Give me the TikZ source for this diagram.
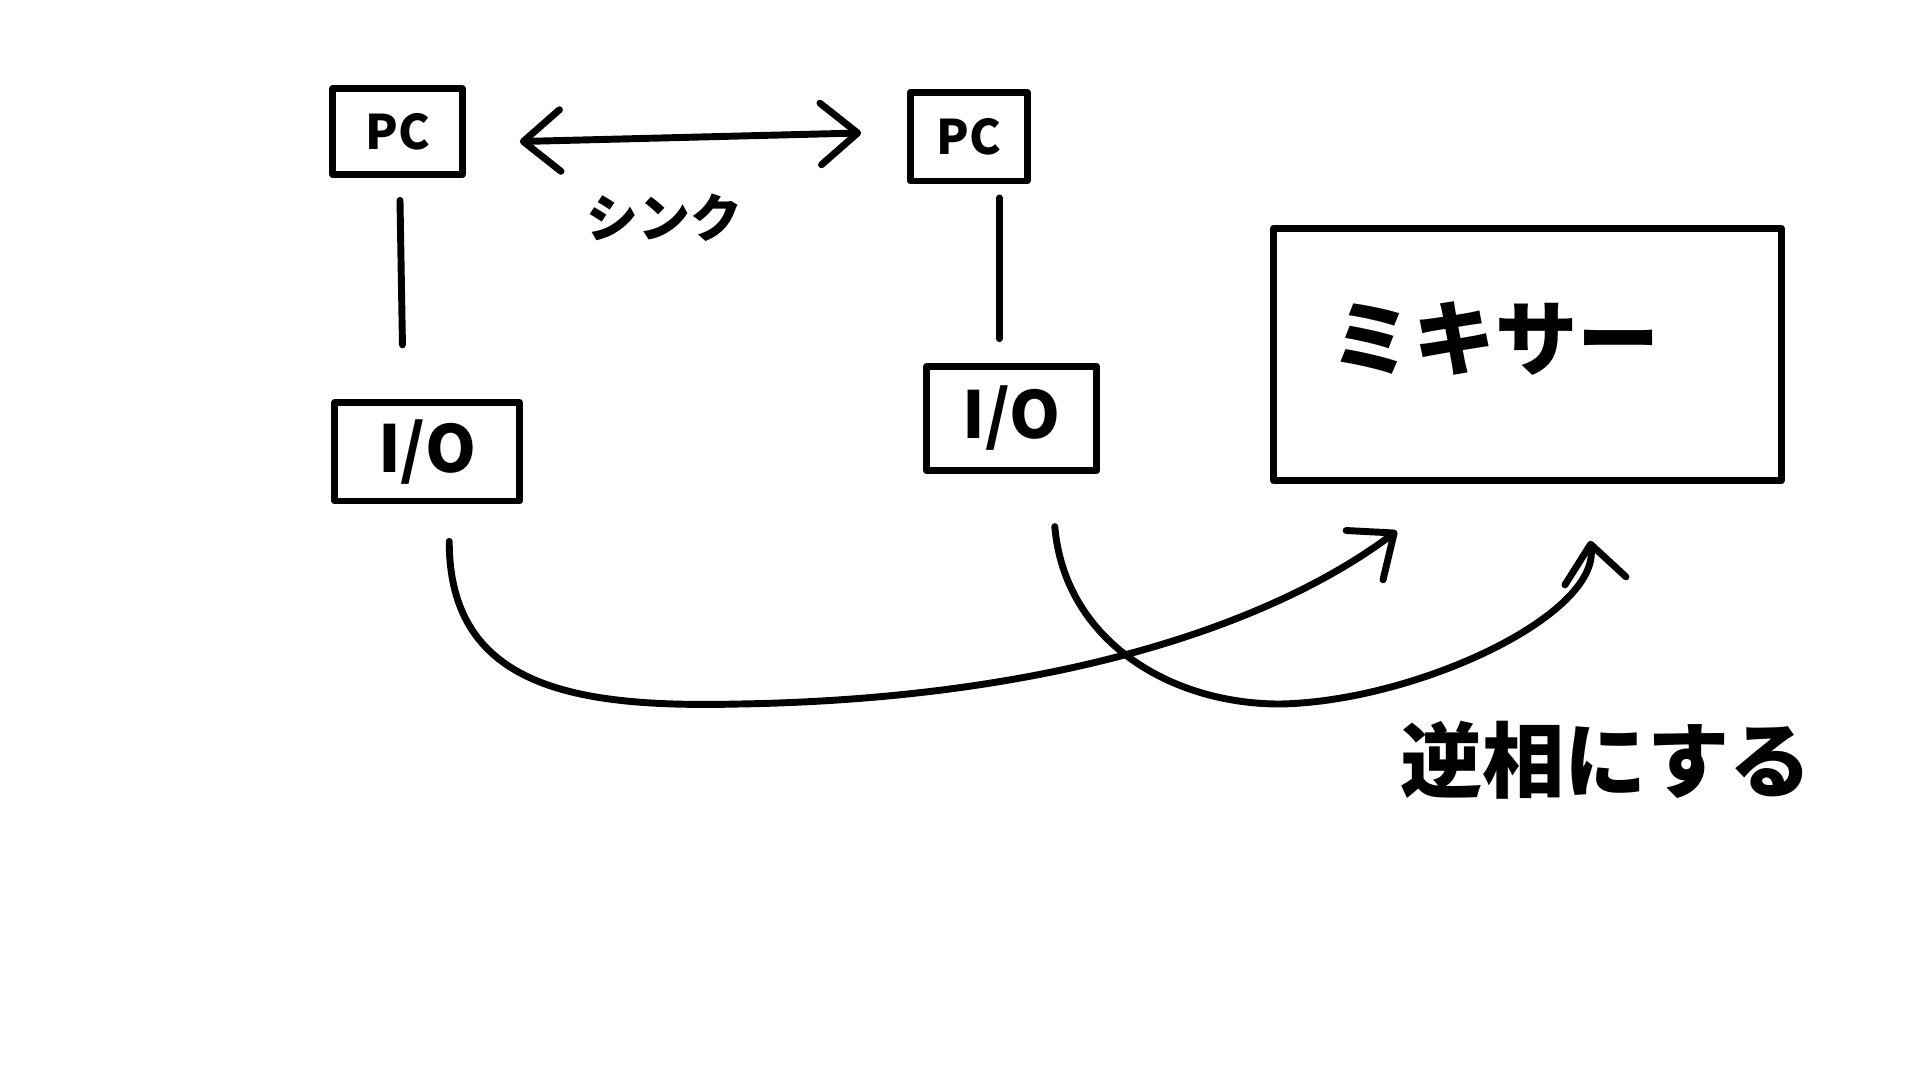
\documentclass[tikz,border=0pt]{standalone}
\usepackage{fontspec}
\newfontfamily\jp{Noto Sans CJK JP}
\usetikzlibrary{arrows.meta,calc}
\begin{document}
\begin{tikzpicture}[x=0.01cm,y=-0.01cm,
  box/.style={draw, line width=1.6pt, line join=round, inner sep=0pt},
  conn/.style={line width=1.6pt, line cap=round},
  >={Straight Barb[length=3mm,width=5mm,line cap=round,line join=round]},
  pcfont/.style={font=\jp\bfseries\fontsize{11}{13}\selectfont},
  iofont/.style={font=\jp\bfseries\fontsize{15}{17}\selectfont},
  bigfont/.style={font=\jp\bfseries\fontsize{19}{22}\selectfont},
  smallfont/.style={font=\jp\bfseries\fontsize{12}{14}\selectfont}]
\useasboundingbox[fill=white] (0,0) rectangle (1560,877.5);
% boxes
\node[box, pcfont, minimum width=1.05cm, minimum height=0.70cm] (pc1) at (323,107) {PC};
\node[box, pcfont, minimum width=0.95cm, minimum height=0.72cm] (pc2) at (787,111) {PC};
\node[box, iofont, minimum width=1.50cm, minimum height=0.80cm] (io1) at (347,367) {I/O};
\node[box, iofont, minimum width=1.38cm, minimum height=0.85cm] (io2) at (822,340) {I/O};
\node[box, minimum width=4.12cm, minimum height=2.05cm] (mixer) at (1241,288) {};
\node[bigfont] (mixertext) at (1215,275) {ミキサー};
% labels
\node[smallfont] (sync) at (540,177) {シンク};
\node[bigfont] (invert) at (1305,618) {逆相にする};
% free ends of the curved connectors
\coordinate (m1) at ($(mixer.south)+(-106,38)$);
\coordinate (m2) at ($(mixer.south)+(51,46)$);
% connectors
\draw[conn,<->] ($(pc1.east)+(44,8)$) -- ($(pc2.west)+(-37,-3)$);
\draw[conn] ($(pc1.south)+(2,18)$) -- ($(io1.north)+(-20,-44)$);
\draw[conn] ($(pc2.south)+(25,11)$) -- ($(io2.north)+(-10,-19.5)$);
\draw[conn,->] ($(io1.south)+(18,30)$) .. controls (365,560) and (470,575) .. (600,572)
  .. controls (850,568) and (1030,510) .. (m1);
\draw[conn,->] ($(io2.south)+(35,42.5)$) .. controls (865,520) and (950,572) .. (1040,572)
  .. controls (1150,570) and (1300,500) .. (m2);
\end{tikzpicture}
\end{document}
